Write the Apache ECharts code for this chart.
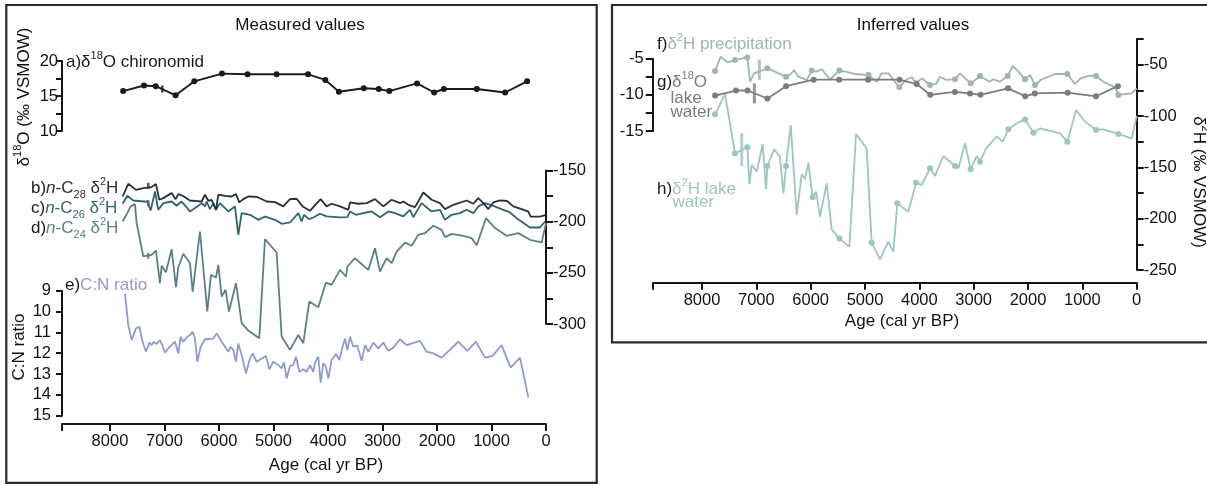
<!DOCTYPE html>
<html><head><meta charset="utf-8">
<script src="https://cdn.jsdelivr.net/npm/echarts@6/dist/echarts.min.js"></script>
<style>html,body{margin:0;padding:0;background:#fff}#c{width:1207px;height:485px}</style>
</head><body><div id="c"></div>
<script>
// ---------- DATA ----------
const xTickLabels = [0, 1000, 2000, 3000, 4000, 5000, 6000, 7000, 8000];
// a) chironomid d18O and g) lake water d18O share sample ages
const chiroAge = [7758, 7375, 7160, 6795, 6453, 5945, 5476, 4943, 4365, 4049, 3800, 3344, 3068, 2875, 2367, 2052, 1875, 1271, 750, 346];
const chiroD18O = [15.7, 16.5, 16.4, 15.1, 17.1, 18.2, 18.1, 18.1, 18.1, 17.3, 15.6, 16.1, 16.0, 15.7, 16.8, 15.5, 16.0, 16.0, 15.5, 17.1];
const lakeD18O = [-10.1, -9.4, -9.4, -10.5, -8.8, -7.9, -7.9, -7.9, -7.9, -8.5, -10.0, -9.6, -9.8, -10.0, -9.1, -10.2, -9.8, -9.7, -10.2, -8.8];

// b) n-C28 dD
const c28Age = [7768,7664,7523,7388,7236,7156,7095,7021,6869,6795,6746,6667,6532,6398,6318,6257,6196,6135,6055,6012,5890,5768,5688,5627,5554,5462,5309,5125,4973,4820,4697,4575,4465,4330,4257,4135,4025,3933,3780,3627,3596,3444,3291,3138,2985,2832,2679,2618,2526,2404,2251,2098,1945,1853,1700,1456,1333,1242,1150,1058,967,844,722,600,447,324,282,110,18];
const c28Val = [-175.4,-163.0,-168.9,-167.2,-166.2,-163.3,-178.6,-177.0,-172.1,-178.0,-173.1,-174.7,-179.3,-179.9,-180.3,-173.7,-179.6,-178.6,-188.4,-173.7,-174.7,-175.4,-173.1,-181.2,-178.0,-175.4,-175.7,-180.3,-180.9,-185.1,-178.0,-177.6,-185.1,-189.4,-185.1,-178.0,-185.1,-182.5,-185.1,-188.4,-181.2,-182.5,-181.9,-178.0,-185.1,-178.6,-181.9,-180.3,-183.5,-185.8,-171.5,-178.6,-181.9,-187.7,-183.5,-179.3,-182.5,-177.0,-181.9,-187.7,-181.2,-179.3,-179.6,-185.1,-187.7,-190.1,-195.0,-195.0,-193.7];

// c) n-C26 dD
const c26Age = [7768,7682,7572,7388,7315,7254,7174,7113,7021,6869,6777,6685,6532,6398,6318,6257,6226,6165,6104,6055,5982,5829,5707,5645,5584,5431,5278,5156,4973,4850,4697,4544,4483,4440,4349,4269,4147,4025,3780,3645,3596,3486,3352,3199,3046,2893,2771,2618,2496,2434,2282,2098,1945,1853,1731,1578,1456,1333,1242,1120,967,783,661,539,294,110,18];
const c26Val = [-182.5,-174.7,-179.3,-180.3,-180.3,-189.1,-170.5,-188.4,-181.9,-180.3,-184.5,-180.3,-190.0,-185.1,-181.9,-185.1,-180.3,-187.7,-181.9,-188.4,-181.9,-190.0,-185.1,-212.9,-191.7,-193.3,-198.2,-195.0,-198.2,-202.1,-200.8,-191.7,-199.8,-193.3,-197.5,-195.9,-192.3,-194.9,-195.9,-195.6,-190.0,-193.3,-191.7,-190.0,-195.6,-190.0,-191.7,-194.9,-188.4,-195.6,-181.9,-190.0,-188.4,-198.2,-193.3,-191.7,-188.4,-191.7,-185.1,-181.9,-184.5,-188.4,-191.0,-196.6,-205.7,-205.7,-199.8];

// d) n-C24 dD
const c24Age = [7768,7682,7621,7541,7511,7388,7236,7156,7083,7052,6973,6869,6789,6746,6655,6532,6483,6349,6214,6147,6055,6012,5951,5878,5817,5688,5584,5462,5260,5156,4942,4850,4697,4544,4453,4343,4178,4037,3933,3780,3670,3645,3505,3260,3138,3046,2924,2832,2740,2587,2465,2343,2220,2068,1915,1853,1731,1517,1364,1272,1101,936,722,508,294,80,0];
const c24Val = [-199.8,-191.7,-185.1,-182.9,-201.4,-234.0,-232.4,-228.2,-260.1,-243.2,-249.4,-226.9,-264.0,-244.5,-231.4,-240.6,-268.6,-209.6,-287.8,-252.0,-254.6,-242.2,-273.2,-266.6,-287.8,-260.1,-299.2,-306.4,-313.9,-217.1,-230.1,-312.3,-325.3,-310.7,-318.8,-278.1,-283.6,-259.5,-261.8,-247.1,-253.6,-243.8,-235.7,-247.1,-225.9,-248.7,-235.7,-240.6,-229.2,-220.4,-223.6,-212.9,-211.2,-204.0,-208.0,-215.1,-211.9,-213.8,-216.1,-223.0,-196.6,-206.3,-213.8,-211.2,-217.7,-220.3,-201.4];

// e) C:N ratio
const cnAge = [7725,7664,7602,7523,7462,7401,7339,7278,7236,7193,7144,7083,7034,6991,6930,6869,6807,6746,6703,6654,6581,6532,6483,6440,6398,6336,6257,6104,6043,5951,5890,5829,5786,5737,5688,5645,5584,5505,5431,5382,5309,5217,5138,5077,5003,4911,4850,4807,4758,4697,4636,4587,4526,4453,4392,4330,4269,4239,4178,4135,4086,4037,3994,3933,3853,3792,3731,3688,3645,3596,3535,3462,3382,3321,3260,3168,3077,2985,2893,2814,2679,2557,2312,2190,2068,1915,1609,1444,1285,1120,979,814,649,477,324];
const cnVal = [9.13,10.65,11.37,10.81,10.73,11.45,11.93,11.49,11.61,11.45,11.56,11.37,11.65,11.97,11.77,11.61,11.45,12.01,11.21,11.45,11.21,11.13,10.97,11.29,12.41,11.69,11.33,11.30,11.05,11.45,11.69,11.93,11.69,11.85,12.41,11.53,12.09,12.97,12.25,12.01,12.41,12.25,12.13,12.77,12.41,12.57,12.73,12.44,13.21,12.61,12.57,12.17,12.89,12.77,12.89,12.57,12.89,12.45,12.17,13.41,12.49,12.65,13.21,12.33,12.04,12.33,11.69,11.29,11.85,11.21,11.69,11.64,12.36,11.61,11.93,11.49,11.77,11.49,11.88,11.77,11.33,11.61,11.41,11.93,12.01,12.21,11.45,11.89,11.45,12.21,12.13,11.61,12.69,12.21,14.12];

// f) dD precipitation (dot = 1 marks a chironomid sample)
const precAge = [7760,7656,7533,7392,7165,7116,7042,6870,6797,6699,6594,6453,6367,6306,6226,6073,5981,5889,5797,5644,5472,5337,5184,4938,4785,4693,4570,4368,4245,4141,4061,3957,3803,3693,3620,3509,3343,3251,3055,2883,2712,2638,2515,2374,2282,2178,2055,1963,1871,1767,1503,1276,1135,1031,890,749,614,399,338,93,0];
const precVal = [-56.2,-42.2,-47.7,-45.5,-42.9,-66.6,-58.4,-55.2,-53.6,-55.8,-58.4,-61.7,-59.1,-55.2,-61.7,-64.9,-55.8,-56.8,-54.5,-64.3,-55.8,-57.1,-59.1,-60.1,-66.6,-58.4,-58.4,-72.1,-64.9,-62.3,-68.2,-63.3,-69.8,-68.8,-61.7,-64.9,-64.3,-58.4,-68.2,-61.0,-66.6,-64.3,-66.6,-61.0,-51.3,-56.8,-64.3,-60.1,-69.8,-64.9,-59.1,-59.1,-68.8,-63.3,-61.0,-61.0,-66.6,-72.1,-79.5,-77.9,-73.0];
const precDot = [1,0,0,1,1,0,0,0,1,0,0,1,0,0,0,0,1,0,0,0,1,0,0,1,0,0,0,1,0,0,1,0,1,0,0,0,1,0,1,1,0,0,0,1,0,0,1,0,1,0,0,1,0,0,0,1,0,0,1,0,0];

// h) dD lake water
const lakeHAge = [7760,7576,7392,7165,7128,7085,6993,6883,6821,6797,6674,6564,6502,6453,6367,6257,6165,6104,6042,5963,5901,5828,5705,5613,5472,5288,5165,4969,4877,4724,4570,4478,4405,4202,4061,3957,3803,3711,3558,3343,3282,3159,3055,2945,2883,2773,2577,2466,2362,2209,2055,1902,1779,1411,1276,1117,951,749,614,338,93,0];
const lakeHVal = [-98.4,-78.6,-136.4,-130.5,-166.2,-147.7,-154.2,-127.3,-171.4,-148.7,-132.5,-139.6,-175.3,-148.7,-108.8,-196.4,-156.5,-161.7,-145.5,-179.2,-173.7,-198.1,-165.6,-210.4,-219.2,-227.3,-117.5,-131.5,-223.4,-239.6,-222.4,-232.2,-185.1,-193.2,-164.9,-167.2,-151.0,-158.4,-139.0,-148.7,-151.0,-126.6,-151.9,-139.0,-144.5,-131.5,-120.1,-125.0,-113.0,-107.1,-103.3,-116.2,-112.0,-116.9,-125.0,-94.2,-105.5,-113.6,-113.0,-117.5,-121.8,-100.0];
const lakeHDot = [1,0,1,1,0,0,0,0,0,1,0,0,0,1,0,0,0,0,0,1,0,0,0,0,1,0,0,0,1,0,0,0,1,0,1,0,1,0,0,1,0,0,1,0,1,0,0,0,1,0,1,1,0,0,1,0,0,1,0,1,0,0];

// hiatus / boundary markers [age, value]
const markA = [[7040, 16.0]];
const markC28 = [[7297, -165.0]];
const markC26 = [[7297, -181.9]];
const markC24 = [[7297, -233.4]];
const markPrec = [[6944, -54.9]];
const markLakeO = [[7036, -9.8]];
const markLakeH = [[7269, -132.8]];

// ---------- STYLE ----------
const FONT = "'Liberation Sans', Arial, Helvetica, sans-serif";
const COL = {a:'#1a1a1a', b:'#273236', c:'#2f6471', d:'#5c8088', e:'#8e9bd3', f:'#9fb6aa', g:'#7c7c7c', h:'#9cc6c1', axis:'#151515'};
const zip = (xs, ys) => xs.map((x, i) => [x, ys[i]]);

function rich(color) {
  const base = {fontFamily: FONT, fontSize: 17, lineHeight: 24};
  return {
    k: Object.assign({}, base, {fill: '#1a1a1a'}),
    n: Object.assign({}, base, {fill: color}),
    i: Object.assign({}, base, {fill: color, fontStyle: 'italic'}),
    p: {fontFamily: FONT, fontSize: 11, lineHeight: 15, verticalAlign: 'top', fill: color},
    s: {fontFamily: FONT, fontSize: 11, lineHeight: 10, verticalAlign: 'bottom', fill: color}
  };
}
function txt(x, y, text, color, opts) {
  opts = opts || {};
  return {type: 'text', x, y, rotation: opts.rot || 0, silent: true,
    style: {text, rich: rich(color), fontFamily: FONT, fontSize: 17, fill: color,
      align: opts.align || 'left', verticalAlign: 'middle'}};
}

function yAx(grid, pos, min, max, interval, labelStep, margin, extra) {
  return Object.assign({
    type: 'value', gridIndex: grid, position: pos, min, max, interval,
    axisLine: {show: true, onZero: false, lineStyle: {color: COL.axis, width: 2}},
    axisTick: {show: true, length: 6, lineStyle: {color: COL.axis, width: 2}},
    axisLabel: {color: '#111', fontSize: 16.5, fontFamily: FONT, margin,
      formatter: v => (Math.abs(Math.round(v / labelStep) * labelStep - v) < 1e-6 ? String(v) : '')},
    splitLine: {show: false}
  }, extra || {});
}
function xAx(grid, max, show, offset) {
  return {
    type: 'value', gridIndex: grid, min: 0, max, interval: 1000, inverse: true, show,
    offset: offset || 0,
    axisLine: {show: true, onZero: false, lineStyle: {color: COL.axis, width: 2}},
    axisTick: {show: true, length: 7, lineStyle: {color: COL.axis, width: 2}},
    axisLabel: {color: '#111', fontSize: 16.5, fontFamily: FONT, margin: show ? 9 : 0,
      formatter: v => (xTickLabels.indexOf(v) >= 0 ? String(v) : '')},
    splitLine: {show: false}
  };
}
function line(xi, yi, data, color, width, extra) {
  return Object.assign({type: 'line', xAxisIndex: xi, yAxisIndex: yi, data, symbol: 'none',
    lineStyle: {color, width}, itemStyle: {color}, clip: false, silent: true, z: 3}, extra || {});
}
function dotted(xi, yi, ages, vals, dots, color, width) {
  return line(xi, yi, ages.map((a, i) => ({value: [a, vals[i]], symbol: dots[i] ? 'circle' : 'none'})),
    color, width, {symbol: 'circle', symbolSize: 6, showSymbol: true, showAllSymbol: true});
}
function marker(xi, yi, data, color, w, h) {
  return {type: 'scatter', xAxisIndex: xi, yAxisIndex: yi, data, symbol: 'rect', symbolSize: [w, h],
    itemStyle: {color}, silent: true, z: 4};
}

const LG = {left: 62, right: 1207 - 546};
const RG = {left: 652.7, right: 1207 - 1136.7};
const tick7 = {show: true, length: 7, lineStyle: {color: COL.axis, width: 2}};

const option = {
  animation: false,
  textStyle: {fontFamily: FONT},
  grid: [
    {left: LG.left, right: LG.right, top: 61, height: 70},
    {left: LG.left, right: LG.right, top: 170.5, height: 153.5},
    {left: LG.left, right: LG.right, top: 290.7, height: 125},
    {left: RG.left, right: RG.right, top: 58.7, height: 72.3},
    {left: RG.left, right: RG.right, top: 39, height: 231}
  ],
  xAxis: [
    xAx(0, 8880, false), xAx(1, 8880, false), xAx(2, 8880, true, 8.3),
    xAx(3, 8907, false), xAx(4, 8907, true, 12.7)
  ],
  yAxis: [
    yAx(0, 'left', 10, 20, 2.5, 5, 4),
    yAx(1, 'right', -300, -150, 25, 50, 7, {axisTick: tick7}),
    yAx(2, 'left', 9, 15, 1, 1, 11, {inverse: true}),
    yAx(3, 'left', -15, -5, 2.5, 5, 9, {axisTick: tick7}),
    yAx(4, 'right', -250, -25, 25, 50, 7, {axisTick: tick7})
  ],
  series: [
    line(0, 0, zip(chiroAge, chiroD18O), COL.a, 1.9, {symbol: 'circle', symbolSize: 6, showSymbol: true}),
    marker(0, 0, markA, COL.a, 2.5, 7),
    line(1, 1, zip(c24Age, c24Val), COL.d, 1.8),
    line(1, 1, zip(c26Age, c26Val), COL.c, 1.8),
    line(1, 1, zip(c28Age, c28Val), COL.b, 1.8),
    marker(1, 1, markC24, COL.d, 2.5, 6),
    marker(1, 1, markC26, COL.c, 2.5, 6),
    marker(1, 1, markC28, COL.b, 2.5, 6),
    line(2, 2, zip(cnAge, cnVal), COL.e, 1.8),
    dotted(4, 4, lakeHAge, lakeHVal, lakeHDot, COL.h, 1.8),
    dotted(4, 4, precAge, precVal, precDot, COL.f, 1.8),
    line(3, 3, zip(chiroAge, lakeD18O), COL.g, 1.8, {symbol: 'circle', symbolSize: 6, showSymbol: true}),
    marker(4, 4, markLakeH, COL.h, 3, 33),
    marker(4, 4, markPrec, COL.f, 3, 20),
    marker(3, 3, markLakeO, COL.g, 3, 20)
  ],
  graphic: [
    {type: 'rect', shape: {x: 6.3, y: 5, width: 590.4, height: 477.8}, style: {fill: 'none', stroke: '#2a2a2a', lineWidth: 2.2}, silent: true},
    {type: 'rect', shape: {x: 612, y: 5, width: 640, height: 337.3}, style: {fill: 'none', stroke: '#2a2a2a', lineWidth: 2.2}, silent: true},
    txt(300, 25, '{n|Measured values}', '#111', {align: 'center'}),
    txt(913, 25, '{n|Inferred values}', '#111', {align: 'center'}),
    txt(326, 465, '{n|Age (cal yr BP)}', '#111', {align: 'center'}),
    txt(902, 321.5, '{n|Age (cal yr BP)}', '#111', {align: 'center'}),
    txt(24, 97, '{n|δ}{p|18}{n|O (‰ VSMOW)}', '#111', {align: 'center', rot: Math.PI / 2}),
    txt(19, 347, '{n|C:N ratio}', '#111', {align: 'center', rot: Math.PI / 2}),
    txt(1199, 182, '{n|δ}{p|2}{n|H (‰ VSMOW)}', '#111', {align: 'center', rot: -Math.PI / 2}),
    txt(66, 62, '{k|a)}{n|δ}{p|18}{n|O chironomid}', COL.a),
    txt(31, 188, '{k|b)}{i|n}{n|-C}{s|28}{n| δ}{p|2}{n|H}', COL.b),
    txt(31, 208, '{k|c)}{i|n}{n|-C}{s|26}{n| δ}{p|2}{n|H}', COL.c),
    txt(31, 228, '{k|d)}{i|n}{n|-C}{s|24}{n| δ}{p|2}{n|H}', COL.d),
    txt(65, 285.5, '{k|e)}{n|C:N ratio}', COL.e),
    txt(657, 44, '{k|f)}{n|δ}{p|2}{n|H precipitation}', COL.f),
    txt(657, 82, '{k|g)}{n|δ}{p|18}{n|O}', COL.g),
    txt(670.5, 98, '{n|lake}', COL.g),
    txt(670.5, 112.5, '{n|water}', COL.g),
    txt(657, 189, '{k|h)}{n|δ}{p|2}{n|H lake}', COL.h),
    txt(672.5, 202, '{n|water}', COL.h)
  ]
};
const chart = echarts.init(document.getElementById('c'), null, {renderer: 'canvas'});
chart.setOption(option);
</script></body></html>
